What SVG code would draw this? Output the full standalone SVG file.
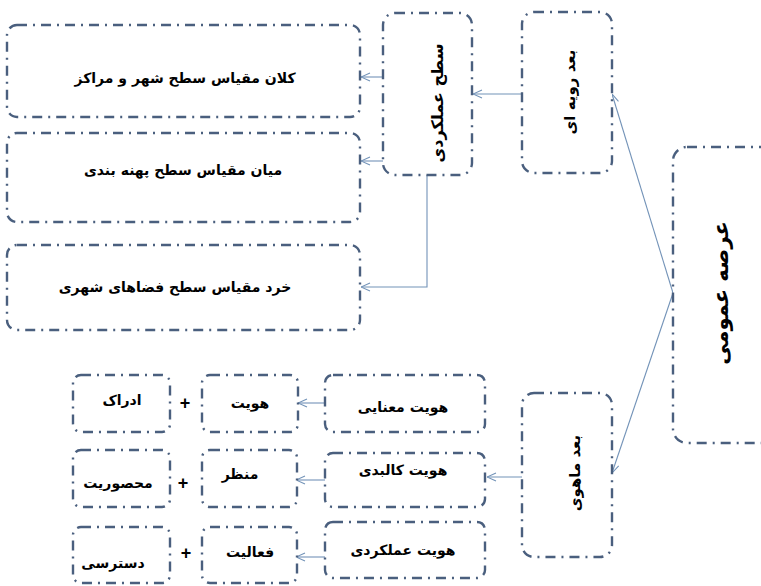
<svg xmlns="http://www.w3.org/2000/svg" width="761" height="586" viewBox="0 0 761 586">
<defs>
<style>
.box{fill:#fff;stroke:#4a5f7e;stroke-width:2.4;stroke-dasharray:10 6 2 6}
.con{fill:none;stroke:#7393b8;stroke-width:1.1}
.t{font-family:"DejaVu Sans",sans-serif;font-weight:bold;font-size:14px;fill:#000;text-anchor:middle}
.tv{font-family:"DejaVu Sans",sans-serif;font-weight:bold;font-size:15px;fill:#000;text-anchor:middle}
.tv2{font-family:"DejaVu Sans",sans-serif;font-weight:bold;font-size:16px;fill:#000;text-anchor:middle}
.tm{font-family:"DejaVu Sans",sans-serif;font-weight:bold;font-size:21px;fill:#000;text-anchor:middle}
.plus{font-family:"Liberation Sans",sans-serif;font-weight:bold;font-size:18px;fill:#000;text-anchor:middle}
</style>
<marker id="ah" viewBox="0 0 10 10" refX="10" refY="5" markerWidth="10" markerHeight="10" markerUnits="userSpaceOnUse" orient="auto">
<path d="M1,1 L10,5 L1,9" fill="none" stroke="#7393b8" stroke-width="1.1"/>
</marker>
</defs>
<rect width="761" height="586" fill="#fff"/>
<g id="connectors">
<line class="con" x1="522" y1="94" x2="473" y2="94" marker-end="url(#ah)"/>
<line class="con" x1="383" y1="77" x2="361" y2="77" marker-end="url(#ah)"/>
<line class="con" x1="383" y1="161" x2="361" y2="161" marker-end="url(#ah)"/>
<polyline class="con" points="427,175 427,287 361,287" marker-end="url(#ah)"/>
<line class="con" x1="673" y1="293" x2="612" y2="94" marker-end="url(#ah)"/>
<line class="con" x1="673" y1="293" x2="612" y2="473" marker-end="url(#ah)"/>
<line class="con" x1="522" y1="477" x2="487" y2="477" marker-end="url(#ah)"/>
<line class="con" x1="325" y1="403" x2="298" y2="403" marker-end="url(#ah)"/>
<line class="con" x1="325" y1="480" x2="296" y2="480" marker-end="url(#ah)"/>
<line class="con" x1="325" y1="557" x2="296" y2="557" marker-end="url(#ah)"/>
</g>
<g id="node-main">
<rect class="box" x="673" y="147" width="110" height="296" rx="14"/>
<text class="tm" transform="translate(721,293) rotate(-90)" dy="7">عرصه عمومی</text>
</g>
<g id="node-ravieh">
<rect class="box" x="522" y="12" width="90" height="161" rx="12"/>
<text class="tv" transform="translate(570,92) rotate(-90)" dy="5">بعد رویه ای</text>
</g>
<g id="node-mahvi">
<rect class="box" x="522" y="393" width="90" height="164" rx="12"/>
<text class="tv" transform="translate(575,473) rotate(-90)" dy="5">بعد ماهوی</text>
</g>
<g id="node-amalkardi">
<rect class="box" x="383" y="13" width="89" height="162" rx="12"/>
<text class="tv2" transform="translate(438,103) rotate(-90)" dy="5">سطح عملکردی</text>
</g>
<g id="node-kalan">
<rect class="box" x="7" y="25" width="353" height="92" rx="10"/>
<text class="t" x="185" y="83">کلان مقیاس سطح شهر و مراکز</text>
</g>
<g id="node-miyan">
<rect class="box" x="7" y="133" width="353" height="89" rx="10"/>
<text class="t" x="183" y="175">میان مقیاس سطح پهنه بندی</text>
</g>
<g id="node-khord">
<rect class="box" x="7" y="245" width="353" height="85" rx="10"/>
<text class="t" x="175" y="292">خرد مقیاس سطح فضاهای شهری</text>
</g>
<g id="node-manayi">
<rect class="box" x="325" y="375" width="160" height="57" rx="8"/>
<text class="t" x="403" y="412">هویت معنایی</text>
</g>
<g id="node-kalbadi">
<rect class="box" x="325" y="453" width="160" height="54" rx="8"/>
<text class="t" x="403" y="475">هویت کالبدی</text>
</g>
<g id="node-amalkardi2">
<rect class="box" x="325" y="522" width="160" height="56" rx="8"/>
<text class="t" x="403" y="555">هویت عملکردی</text>
</g>
<g id="node-hoviat">
<rect class="box" x="202" y="375" width="96" height="57" rx="8"/>
<text class="t" x="250" y="408">هویت</text>
</g>
<g id="node-manzar">
<rect class="box" x="202" y="450" width="95" height="57" rx="8"/>
<text class="t" x="240" y="479">منظر</text>
</g>
<g id="node-faaliat">
<rect class="box" x="202" y="527" width="95" height="56" rx="8"/>
<text class="t" x="250" y="557">فعالیت</text>
</g>
<g id="node-edrak">
<rect class="box" x="73" y="375" width="97" height="57" rx="8"/>
<text class="t" x="122" y="405">ادراک</text>
</g>
<g id="node-mahsuriat">
<rect class="box" x="73" y="450" width="97" height="57" rx="8"/>
<text class="t" x="118" y="488">محصوریت</text>
</g>
<g id="node-dastrasi">
<rect class="box" x="73" y="527" width="97" height="56" rx="8"/>
<text class="t" x="113" y="568">دسترسی</text>
</g>
<g id="plus-signs">
<text class="plus" x="185" y="409">+</text>
<text class="plus" x="183" y="489">+</text>
<text class="plus" x="186" y="559">+</text>
</g>
</svg>
